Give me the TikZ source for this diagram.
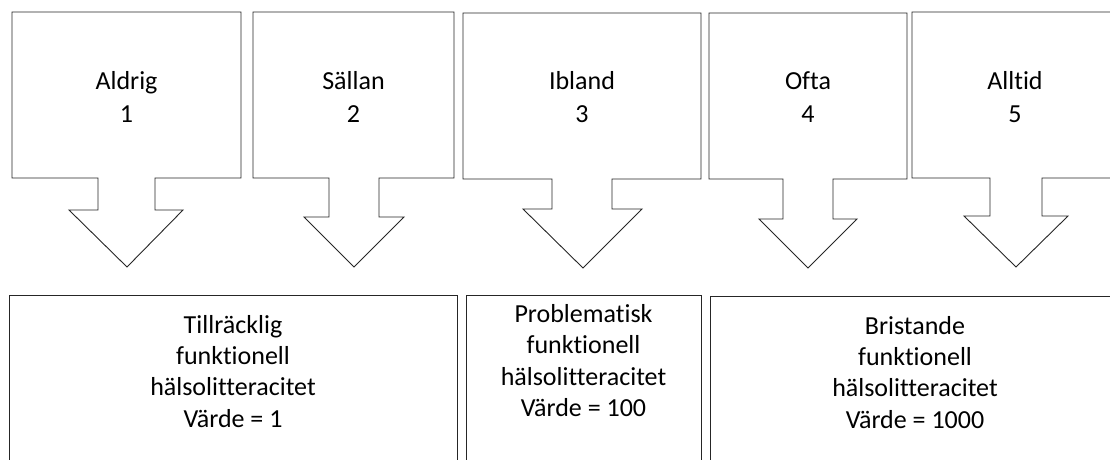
\documentclass[tikz,border=0pt]{standalone}
\usepackage{fontspec}
\setmainfont{Carlito}[Ligatures={NoCommon,NoContextual}]
\begin{document}
\begin{tikzpicture}[x=1pt,y=-1pt,
  arrowshape/.style={draw=black!85, line width=0.9pt, line join=miter, fill=white},
  boxshape/.style={draw=black!85, line width=0.9pt, fill=white},
  toplabel/.style={align=center, inner sep=0pt, anchor=base, font=\fontsize{26}{32.5}\selectfont},
  botlabel/.style={align=center, inner sep=0pt, anchor=base, font=\fontsize{26}{31.3}\selectfont}]
\useasboundingbox (0,0) rectangle (1110,459);
\clip (0,0) rectangle (1110,459);
% top arrow callouts
\draw[arrowshape] (12,12) -- (241,12) -- (241,178) -- (155,178) -- (155,210) -- (183,210) -- (127,267) -- (69,210) -- (98,210) -- (98,178) -- (12,178) -- cycle;
\draw[arrowshape] (253,12) -- (454,12) -- (454,178) -- (379,178) -- (379,217) -- (404,217) -- (354,267) -- (304,217) -- (329,217) -- (329,178) -- (253,178) -- cycle;
\draw[arrowshape] (463,13) -- (701,13) -- (701,179) -- (612,179) -- (612,209) -- (642,209) -- (583,268) -- (523,209) -- (552,209) -- (552,179) -- (463,179) -- cycle;
\draw[arrowshape] (709,13) -- (907,13) -- (907,179) -- (833,179) -- (833,219) -- (857,219) -- (808,268) -- (759,219) -- (783,219) -- (783,179) -- (709,179) -- cycle;
\draw[arrowshape] (912,12) -- (1118,12) -- (1118,178) -- (1042,178) -- (1042,216) -- (1068,216) -- (1016,267) -- (964,216) -- (990,216) -- (990,178) -- (912,178) -- cycle;
% (base anchor = baseline of the last line)
\node[toplabel] (t1) at (126.5,122) {Aldrig\\1};
\node[toplabel] (t2) at (353.5,122) {Sällan\\2};
\node[toplabel] (t3) at (582,122) {Ibland\\3};
\node[toplabel] (t4) at (808,122) {Ofta\\4};
\node[toplabel] (t5) at (1015,122) {Alltid\\5};
% bottom boxes
\draw[boxshape] (9,295) rectangle (457,475);
\draw[boxshape] (466,295) rectangle (701,475);
\draw[boxshape] (710,296) rectangle (1122,475);
\node[botlabel] (b1) at (233,427) {Tillräcklig\\funktionell\\hälsolitteracitet\\Värde = 1};
\node[botlabel] (b2) at (583.5,416.5) {Problematisk\\funktionell\\hälsolitteracitet\\Värde = 100};
\node[botlabel] (b3) at (915,428) {Bristande\\funktionell\\hälsolitteracitet\\Värde = 1000};
\end{tikzpicture}
\end{document}
